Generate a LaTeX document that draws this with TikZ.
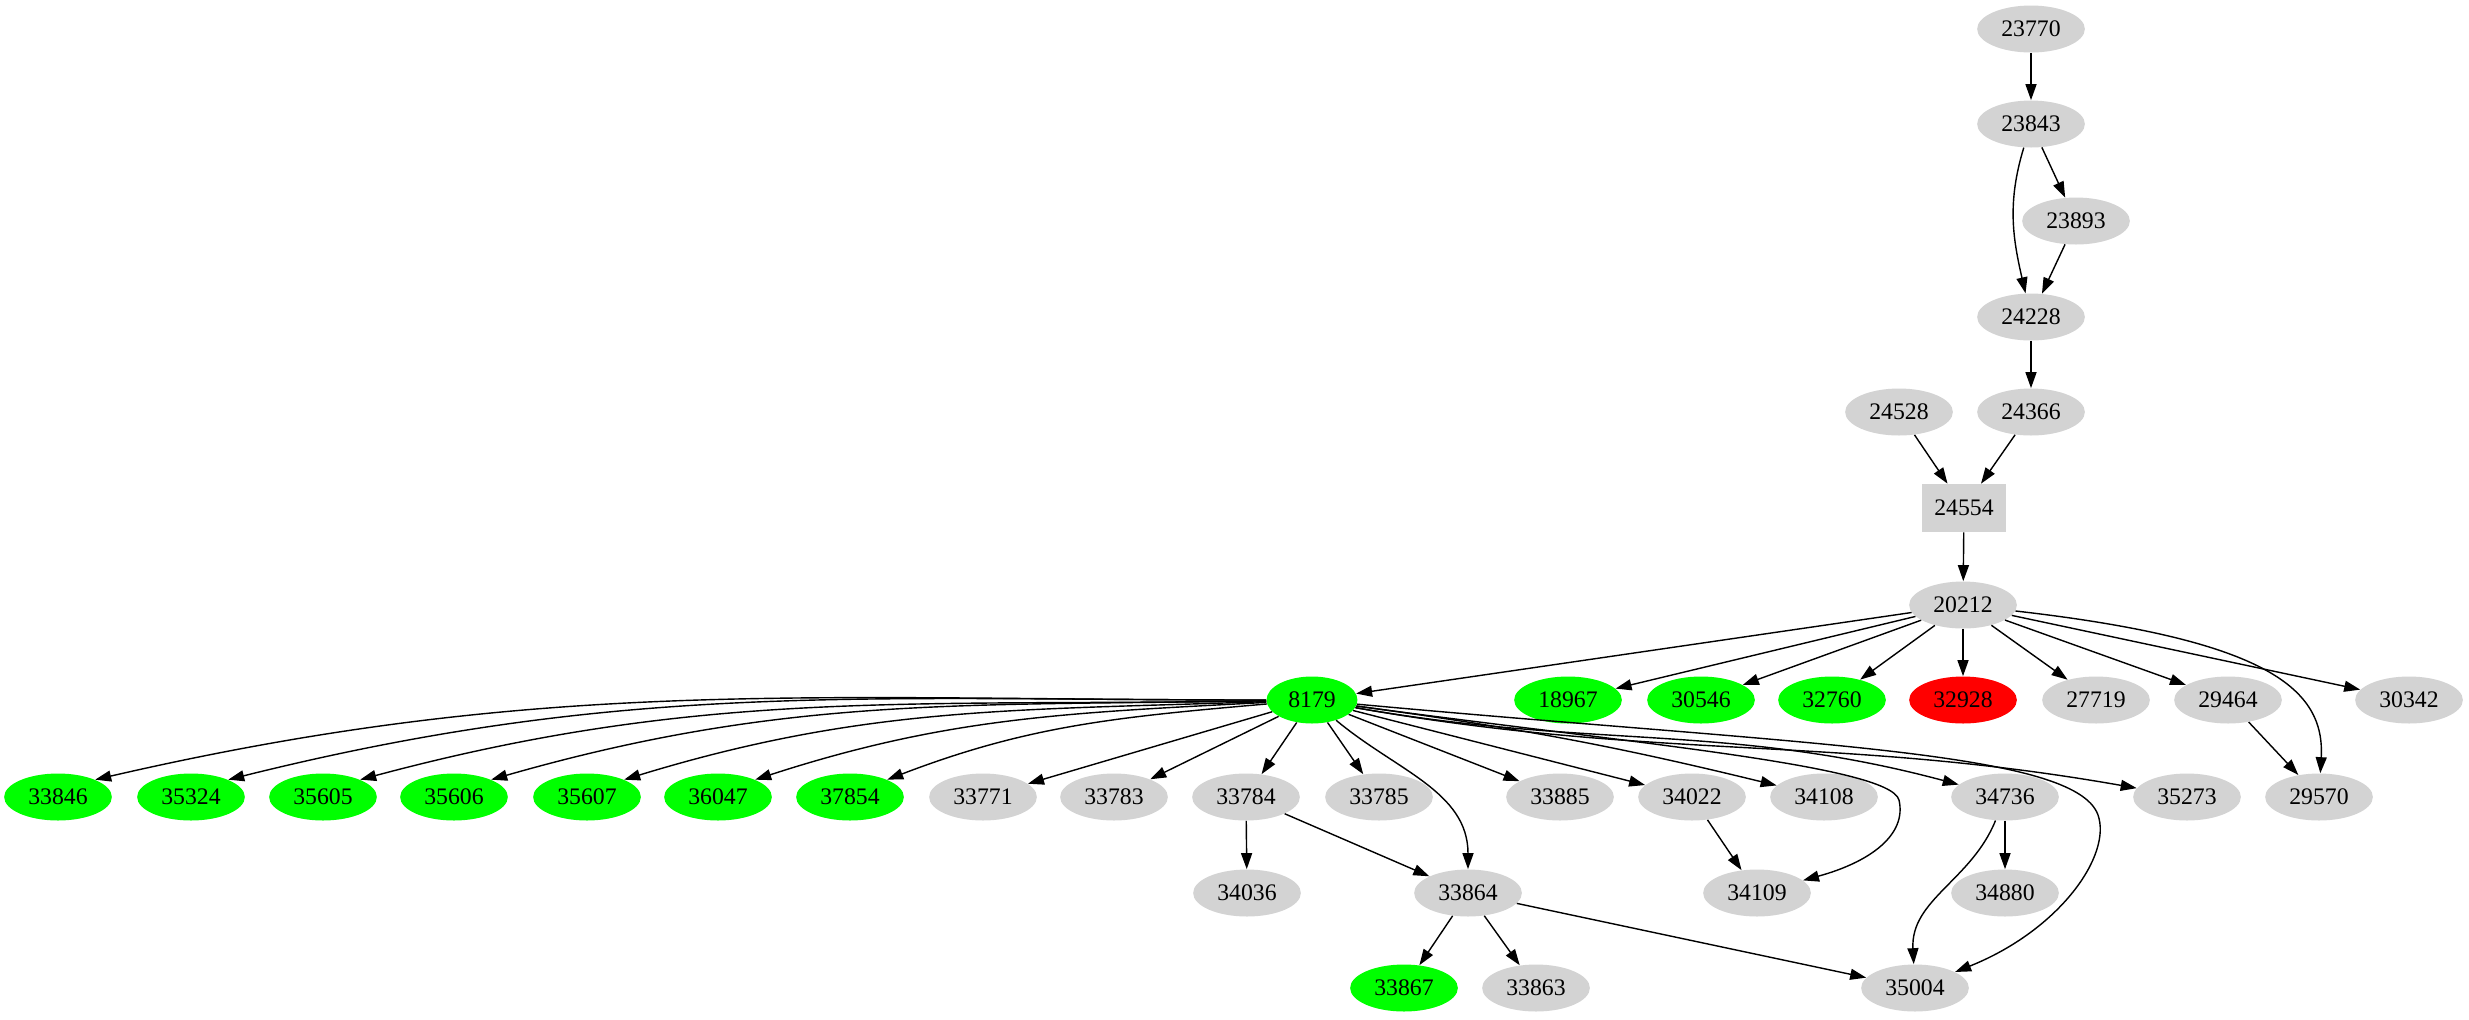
\documentclass[tikz,border=0pt]{standalone}
\usepackage{fontspec}
\setmainfont{Liberation Serif}
\usetikzlibrary{arrows.meta, shapes.geometric}
\definecolor{nodegray}{HTML}{D3D3D3}
\definecolor{nodegreen}{HTML}{00FF00}
\definecolor{nodered}{HTML}{FF0000}

\begin{document}
\begin{tikzpicture}[
    x=0.02cm, y=0.02cm,
    font=\fontsize{13.5}{15}\selectfont,
    >={Triangle[length=0.32cm, width=0.22cm]},
    % ── shared styles ──
    id node/.style={ellipse, draw=none, fill=#1, inner xsep=4.8pt,
        inner ysep=2pt, minimum height=0.94cm},
    gray node/.style={id node=nodegray},
    green node/.style={id node=nodegreen},
    red node/.style={id node=nodered},
    box node/.style={rectangle, fill=nodegray, inner sep=0pt,
        minimum width=1.68cm, minimum height=0.96cm},
    dep/.style={->, draw=black, line width=0.8pt},
]
\useasboundingbox (0,0) rectangle (2469,-1019);

% ══════════════════════════════════════════════════════════════════════
%  ROWS (rank heights)
% ══════════════════════════════════════════════════════════════════════
\def\rowA{-29}  \def\rowB{-124} \def\rowC{-221} \def\rowD{-317}
\def\rowE{-412} \def\rowF{-508} \def\rowG{-605} \def\rowH{-700}
\def\rowI{-797} \def\rowJ{-893} \def\rowK{-988}

% ══════════════════════════════════════════════════════════════════════
%  UPPER CHAIN
% ══════════════════════════════════════════════════════════════════════
\node[gray node] (n23770) at (2031,\rowA) {23770};
\node[gray node] (n23843) at (2031,\rowB) {23843};
\node[gray node] (n23893) at (2076,\rowC) {23893};
\node[gray node] (n24228) at (2031,\rowD) {24228};
\node[gray node] (n24528) at (1899,\rowE) {24528};
\node[gray node] (n24366) at (2031,\rowE) {24366};
\node[box node]  (n24554) at (1964,\rowF) {24554};
\node[gray node] (n20212) at (1963,\rowG) {20212};

% ══════════════════════════════════════════════════════════════════════
%  CHILDREN OF 20212
% ══════════════════════════════════════════════════════════════════════
\node[green node] (n8179)  at (1312,\rowH) {8179};
\node[green node] (n18967) at (1568,\rowH) {18967};
\node[green node] (n30546) at (1701,\rowH) {30546};
\node[green node] (n32760) at (1832,\rowH) {32760};
\node[red node]   (n32928) at (1963,\rowH) {32928};
\node[gray node]  (n27719) at (2096,\rowH) {27719};
\node[gray node]  (n29464) at (2228,\rowH) {29464};
\node[gray node]  (n30342) at (2409,\rowH) {30342};

% ══════════════════════════════════════════════════════════════════════
%  LOWER RANKS
% ══════════════════════════════════════════════════════════════════════
\node[green node] (n33846) at (58,\rowI)   {33846};
\node[green node] (n35324) at (191,\rowI)  {35324};
\node[green node] (n35605) at (323,\rowI)  {35605};
\node[green node] (n35606) at (454,\rowI)  {35606};
\node[green node] (n35607) at (587,\rowI)  {35607};
\node[green node] (n36047) at (718,\rowI)  {36047};
\node[green node] (n37854) at (850,\rowI)  {37854};
\node[gray node]  (n33771) at (983,\rowI)  {33771};
\node[gray node]  (n33783) at (1114,\rowI) {33783};
\node[gray node]  (n33784) at (1246,\rowI) {33784};
\node[gray node]  (n33785) at (1379,\rowI) {33785};
\node[gray node]  (n33885) at (1560,\rowI) {33885};
\node[gray node]  (n34022) at (1692,\rowI) {34022};
\node[gray node]  (n34108) at (1824,\rowI) {34108};
\node[gray node]  (n34736) at (2005,\rowI) {34736};
\node[gray node]  (n35273) at (2187,\rowI) {35273};
\node[gray node]  (n29570) at (2319,\rowI) {29570};

\node[gray node]  (n34036) at (1247,\rowJ) {34036};
\node[gray node]  (n33864) at (1468,\rowJ) {33864};
\node[gray node]  (n34109) at (1757,\rowJ) {34109};
\node[gray node]  (n34880) at (2005,\rowJ) {34880};

\node[green node] (n33867) at (1404,\rowK) {33867};
\node[gray node]  (n33863) at (1536,\rowK) {33863};
\node[gray node]  (n35004) at (1915,\rowK) {35004};

% ══════════════════════════════════════════════════════════════════════
%  EDGES
% ══════════════════════════════════════════════════════════════════════
\draw[dep] (n23770) -- (n23843);
\draw[dep] (n23843) to[out=-107, in=103] (n24228);
\draw[dep] (n23843) -- (n23893);
\draw[dep] (n23893) -- (n24228);
\draw[dep] (n24228) -- (n24366);
\draw[dep] (n24528) -- (n24554);
\draw[dep] (n24366) -- (n24554);
\draw[dep] (n24554) -- (n20212);

\foreach \kid in {8179, 18967, 30546, 32760, 32928, 27719, 29464, 30342}
  \draw[dep] (n20212) -- (n\kid);
\draw[dep] (n20212) .. controls (2270,-640) and (2325,-690) .. (n29570);
\draw[dep] (n29464) -- (n29570);

% fan to the left of 8179
\foreach \leaf/\oa/\ia in {33846/180/13, 35324/180/14, 35605/181/15,
    35606/181/16, 35607/182/17, 36047/183/18, 37854/185/21}
  \draw[dep] (n8179) to[out=\oa, in=\ia] (n\leaf.25);

% fan below and to the right of 8179
\foreach \leaf in {33771, 33783, 33784, 33785, 33885, 34022}
  \draw[dep] (n8179) -- (n\leaf);
\draw[dep] (n8179) to[out=-40, in=90] (n33864);
\draw[dep] (n8179) to[bend left=3] (n34108);
\draw[dep] (n8179) to[out=-10, in=165] (n34736);
\draw[dep] (n8179) to[out=-10, in=170] (n35273);
\draw[dep] (n8179) .. controls (1620,-742) and (1890,-765) .. (1899,-800)
    .. controls (1907,-835) and (1870,-862) .. (n34109);
\draw[dep] (n8179) .. controls (1800,-745) and (2075,-750) .. (2098,-815)
    .. controls (2112,-855) and (2060,-930) .. (n35004);

\draw[dep] (n33784) -- (n34036);
\draw[dep] (n33784) -- (n33864);
\draw[dep] (n33864) -- (n33867);
\draw[dep] (n33864) -- (n33863);
\draw[dep] (n33864) -- (n35004);
\draw[dep] (n34022) -- (n34109);
\draw[dep] (n34736) -- (n34880);
\draw[dep] (n34736) to[out=-112, in=93] (n35004);

\end{tikzpicture}
\end{document}
